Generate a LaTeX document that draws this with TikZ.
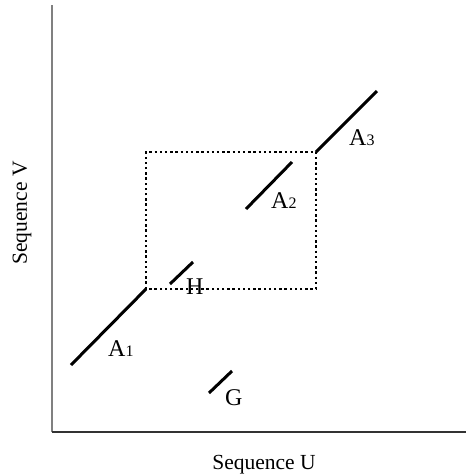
\documentclass[tikz,border=0pt]{standalone}
\usepackage{fontspec}
\setmainfont{Liberation Serif}
\begin{document}
\begin{tikzpicture}[x=1pt,y=-1pt,
  seg/.style={line width=3pt,black},
  box/.style={line width=2.4pt,dash pattern=on 2.4pt off 2.8pt},
  lbl/.style={anchor=base west,inner sep=0pt,font=\fontsize{24pt}{26pt}\selectfont},
  axlbl/.style={inner sep=0pt,font=\fontsize{21.5pt}{23pt}\selectfont}]
\newcommand\subdig[1]{{\fontsize{16pt}{16pt}\selectfont #1}}
\useasboundingbox (0,0) rectangle (466,475);
% axes
\coordinate (o) at (52,432);
\coordinate (ytop) at (52,5);
\coordinate (xend) at (466,432);
\draw[line width=1.6pt,gray] (o) -- (ytop);
\draw[line width=1.6pt,black!80] (o) -- (xend);
% box
\coordinate (bl) at (146,289);
\coordinate (tr) at (316,152);
\draw[box] (bl) rectangle (tr);
% segments
\coordinate (a1s) at (71,365);
\draw[seg] (a1s) -- (bl);
\coordinate (a3e) at (377,91);
\draw[seg] (tr) -- (a3e);
\coordinate (a2s) at (246,209);
\coordinate (a2e) at (292,162);
\draw[seg] (a2s) -- (a2e);
\coordinate (hs) at (170,284);
\coordinate (he) at (193,262);
\draw[seg] (hs) -- (he);
\coordinate (gs) at (209,393);
\coordinate (ge) at (232,371);
\draw[seg] (gs) -- (ge);
% labels
\node[lbl] (la1) at (108,356) {A\subdig{1}};
\node[lbl] (la2) at (271,208) {A\subdig{2}};
\node[lbl] (la3) at (349,145) {A\subdig{3}};
\node[lbl] (lh) at (186,294) {H};
\node[lbl] (lg) at (225,405) {G};
% axis labels
\node[axlbl,anchor=base] (xl) at (264,469) {Sequence U};
\node[axlbl,anchor=base,rotate=90] (yl) at (27,213) {Sequence V};
\end{tikzpicture}
\end{document}
